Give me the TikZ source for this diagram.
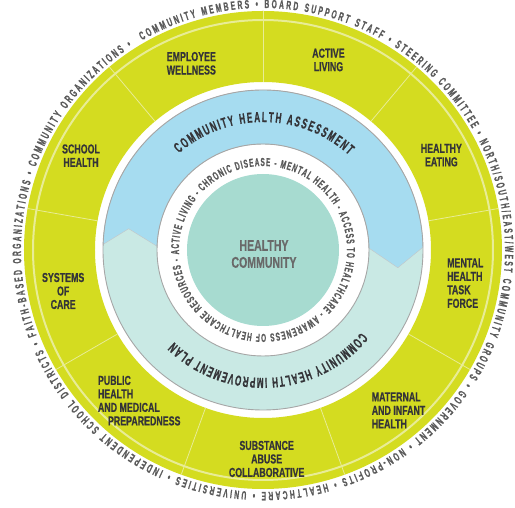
\documentclass[tikz,border=0pt]{standalone}
\usepackage{fontspec}
\newfontfamily\condfont[FakeStretch=0.68, FakeBold=0.5]{Liberation Sans}
\newfontfamily\narrowfont[FakeStretch=0.56, FakeBold=0.7]{Liberation Sans}
\usetikzlibrary{decorations.text}
\definecolor{ringgreen}{RGB}{212,220,32}
\definecolor{ringstripe}{RGB}{232,236,150}
\definecolor{assessblue}{RGB}{166,220,240}
\definecolor{planteal}{RGB}{201,233,228}
\definecolor{corecol}{RGB}{167,219,208}
\definecolor{labelgray}{RGB}{52,52,56}
\definecolor{ringgray}{RGB}{90,90,90}
\definecolor{coregray}{RGB}{105,105,105}
\newcommand\bandfont{\narrowfont\bfseries\fontsize{14.5pt}{16pt}\selectfont}
\newcommand\innerfont{\narrowfont\bfseries\fontsize{11.5pt}{13pt}\selectfont}
\newcommand\outerfont{\narrowfont\bfseries\fontsize{12pt}{13pt}\selectfont}

\begin{document}
\begin{tikzpicture}
\tikzset{segment/.style = {font={\condfont\bfseries\fontsize{13pt}{13.5pt}\selectfont}, text=labelgray, align=center, inner sep=0pt}}
\tikzset{divider/.style = {ringstripe, line width=0.8pt}}
\tikzset{rim/.style = {gray!70, line width=0.9pt}}
\tikzset{ringtext/.style = {decorate, decoration={text along path, text align={fit to path}, text color=#1}}}
\def \rout {239pt}
\def \rin {168pt}
\useasboundingbox (-263pt,-258pt) rectangle (252pt,250pt);
% outer ring of programmes
\fill[ringgreen, even odd rule] (0,0) circle[radius=\rout] (0,0) circle[radius=\rin];
\draw[ringstripe, line width=2pt] (0,0) circle[radius=230pt];
\draw[divider] (90:\rin) -- (90:\rout);
\draw[divider] (50:\rin) -- (50:\rout);
\draw[divider] (10:\rin) -- (10:\rout);
\draw[divider] (-30:\rin) -- (-30:\rout);
\draw[divider] (-70:\rin) -- (-70:\rout);
\draw[divider] (-110:\rin) -- (-110:\rout);
\draw[divider] (-150:\rin) -- (-150:\rout);
\draw[divider] (170:\rin) -- (170:\rout);
\draw[divider] (130:\rin) -- (130:\rout);
\node[segment](s0) at (111:200pt) {EMPLOYEE\\WELLNESS};
\node[segment](s1) at (71:201pt) {ACTIVE\\LIVING};
\node[segment](s2) at (28:202pt) {HEALTHY\\EATING};
\node[segment, align=left](s3) at (-9.3:205pt) {MENTAL\\HEALTH\\TASK\\FORCE};
\node[segment, align=left](s4) at (-49.8:210pt) {MATERNAL\\AND INFANT\\HEALTH};
\node[segment](s5) at (-89:209pt) {SUBSTANCE\\ABUSE\\COLLABORATIVE};
\node[segment, align=left](s6) at (230.6:195pt) {PUBLIC\\HEALTH\\AND MEDICAL\\\hspace{10pt}PREPAREDNESS};
\node[segment](s7) at (191.6:204pt) {SYSTEMS\\OF\\CARE};
\node[segment](s8) at (152.6:205pt) {SCHOOL\\HEALTH};
% assessment / plan band
\fill[planteal, even odd rule] (0,0) circle[radius=160pt] (0,0) circle[radius=106pt];
\filldraw[fill=assessblue, draw=gray!45, line width=0.4pt] (1:160pt) arc[start angle=1, end angle=178, radius=160pt]
  -- (171:136pt) -- (178:106pt) arc[start angle=178, end angle=1, radius=106pt] -- (-7.5:136pt) -- cycle;
\draw[rim] (0,0) circle[radius=160pt];
\draw[rim] (0,0) circle[radius=106pt];
\fill[corecol] (0,0) circle[radius=76pt];
\node[font={\condfont\bfseries\fontsize{15.5pt}{17pt}\selectfont}, text=coregray, align=center, inner sep=0pt](hc) at (1pt,-4pt) {HEALTHY\\COMMUNITY};
% texts along the circles
\path[ringtext=labelgray, decoration={text={|\bandfont|COMMUNITY HEALTH ASSESSMENT}}]
  (131:128pt) arc[start angle=131, end angle=48, radius=128pt];
\path[ringtext=labelgray, decoration={text={|\bandfont|COMMUNITY HEALTH IMPROVEMENT PLAN}}]
  (-40:128pt) arc[start angle=-40, end angle=-134, radius=128pt];
\path[ringtext=ringgray, decoration={text={|\innerfont|ACTIVE LIVING - CHRONIC DISEASE - MENTAL HEALTH - ACCESS TO HEALTHCARE - AWARENESS OF HEALTHCARE RESOURCES -}}]
  (183:84pt) arc[start angle=183, end angle=-174, radius=84pt];
\path[ringtext=ringgray, decoration={text={|\outerfont|COMMUNITY MEMBERS • BOARD SUPPORT STAFF • STEERING COMMITTEE • NORTH/SOUTH/EAST/WEST COMMUNITY GROUPS • GOVERNMENT • NON-PROFITS • HEALTHCARE • UNIVERSITIES • INDEPENDENT SCHOOL DISTRICTS • FAITH-BASED ORGANIZATIONS • COMMUNITY ORGANIZATIONS •}}]
  (120:242pt) arc[start angle=120, end angle=-237, radius=242pt];
\end{tikzpicture}
\end{document}
